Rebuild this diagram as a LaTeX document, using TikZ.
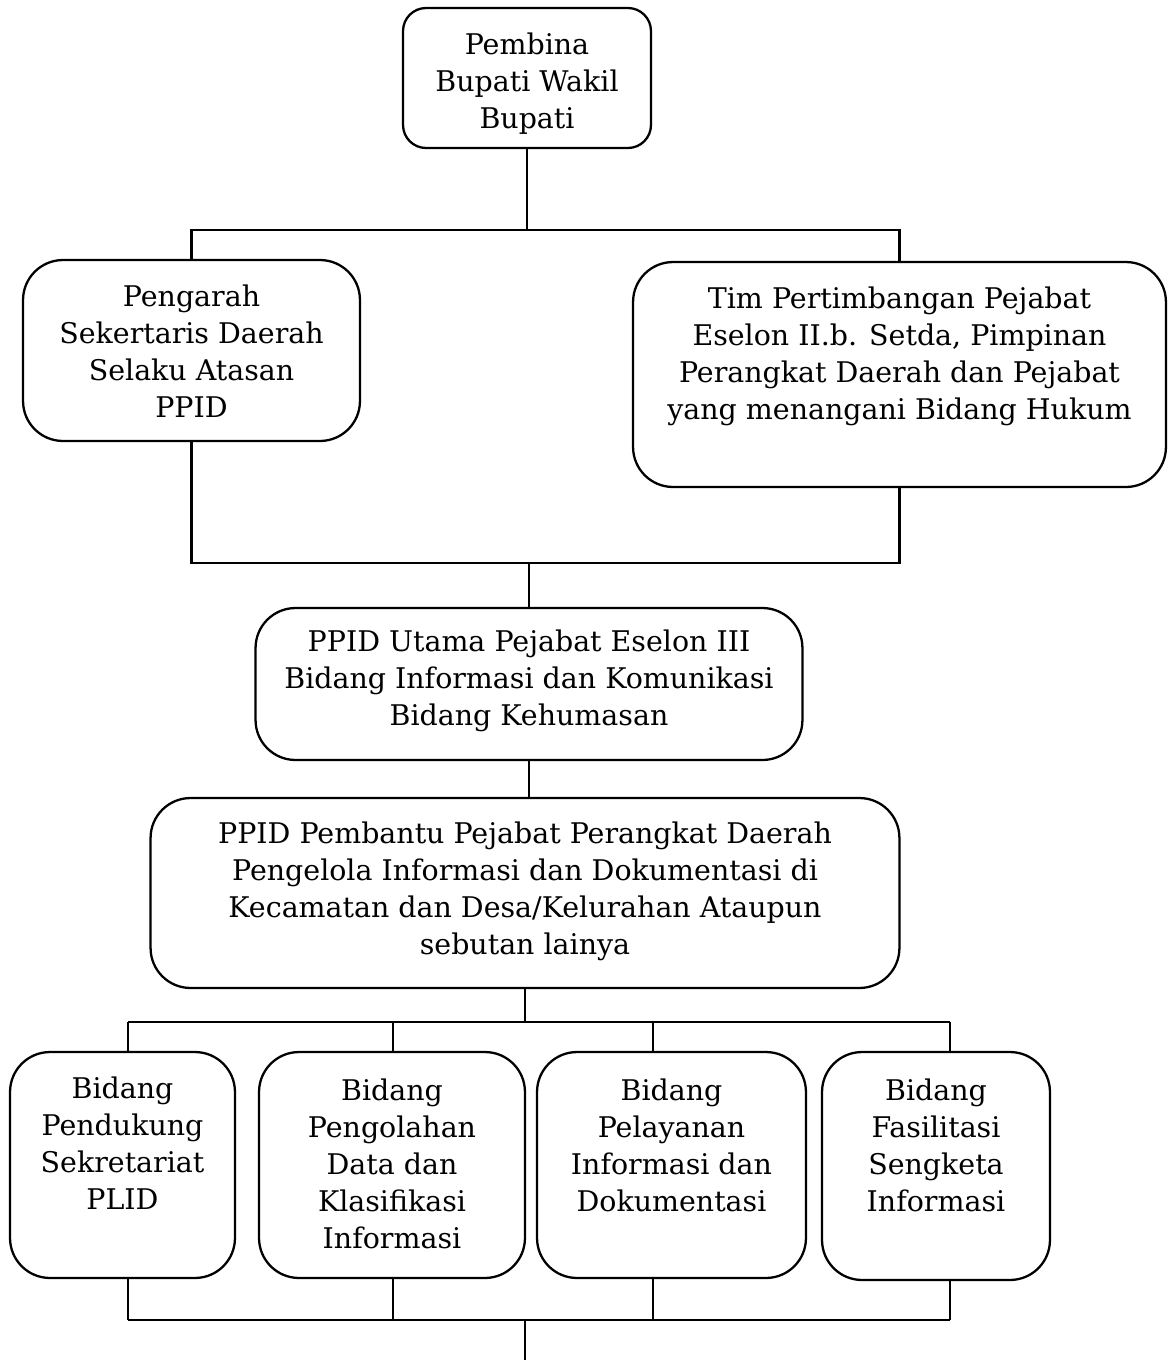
\documentclass[tikz,border=0pt]{standalone}
\usepackage{fontspec}
\setmainfont{DejaVu Serif}
\usetikzlibrary{positioning}

\begin{document}
\begin{tikzpicture}[x=0.02cm, y=-0.02cm, line width=1.3pt,
        box/.style={draw, rounded corners=0.8cm, inner sep=0pt},
        txt/.style={align=center, inner sep=0pt, font=\fontsize{16.2}{21}\selectfont}]
            \useasboundingbox (0,0) rectangle (1168,1360);

            \node[box, rounded corners=0.46cm, minimum width=4.96cm, minimum height=2.8cm] (pembina) at (527,78) {};
            \node[box, minimum width=6.74cm, minimum height=3.62cm] (pengarah) at (191.5,350.5) {};
            \node[box, minimum width=10.66cm, minimum height=4.5cm] (tim) at (899.5,374.5) {};
            \node[box, minimum width=10.94cm, minimum height=3.04cm] (utama) at (529,684) {};
            \node[box, minimum width=14.98cm, minimum height=3.8cm] (pembantu) at (525,893) {};
            \node[box, minimum width=4.5cm, minimum height=4.52cm] (b1) at (122.5,1165) {};
            \node[box, minimum width=5.32cm, minimum height=4.52cm] (b2) at (392,1165) {};
            \node[box, minimum width=5.38cm, minimum height=4.52cm] (b3) at (671.5,1165) {};
            \node[box, minimum width=4.56cm, minimum height=4.56cm] (b4) at (936,1166) {};

            \node[txt, below=0.5cm of pembina.north] {Pembina\\Bupati Wakil\\Bupati};
            \node[txt, below=0.5cm of pengarah.north] {Pengarah\\Sekertaris Daerah\\Selaku Atasan\\PPID};
            \node[txt, below=0.5cm of tim.north] {Tim Pertimbangan Pejabat\\Eselon II.b. Setda, Pimpinan\\Perangkat Daerah dan Pejabat\\yang menangani Bidang Hukum};
            \node[txt, below=0.44cm of utama.north] {PPID Utama Pejabat Eselon III\\Bidang Informasi dan Komunikasi\\Bidang Kehumasan};
            \node[txt, below=0.48cm of pembantu.north] {PPID Pembantu Pejabat Perangkat Daerah\\Pengelola Informasi dan Dokumentasi di\\Kecamatan dan Desa/Kelurahan Ataupun\\sebutan lainya};
            \node[txt, below=0.5cm of b1.north] {Bidang\\Pendukung\\Sekretariat\\PLID};
            \node[txt, below=0.54cm of b2.north] {Bidang\\Pengolahan\\Data dan\\Klasifikasi\\Informasi};
            \node[txt, below=0.54cm of b3.north] {Bidang\\Pelayanan\\Informasi dan\\Dokumentasi};
            \node[txt, below=0.54cm of b4.north] {Bidang\\Fasilitasi\\Sengketa\\Informasi};

            \coordinate (bus1) at (527,230);
            \coordinate (bus2) at (529,563);
            \foreach \i/\x in {1/128, 2/393, 3/653, 4/950} {
                \coordinate (t\i) at (\x,1022);
                \coordinate (u\i) at (\x,1320);
            }
            \coordinate (bot) at (525,1320);
            \coordinate (end) at (525,1360);

            \draw (pembina.south) -- (bus1);
            \draw (pengarah.north) -- (pengarah.north |- bus1) -| (tim.north);
            \draw (pengarah.south) |- (bus2) -| (tim.south);
            \draw (bus2) -- (bus2 |- utama.north);
            \draw (utama.south) -- (utama.south |- pembantu.north);
            \draw (pembantu.south) -- (pembantu.south |- t1);
            \draw (t1) -- (t4);
            \draw (u1) -- (u4);
            \foreach \i in {1, 2, 3, 4} {
                \draw (t\i) -- (t\i |- b\i.north);
                \draw (t\i |- b\i.south) -- (u\i);
            }
            \draw (bot) -- (end);
        \end{tikzpicture}
\end{document}
